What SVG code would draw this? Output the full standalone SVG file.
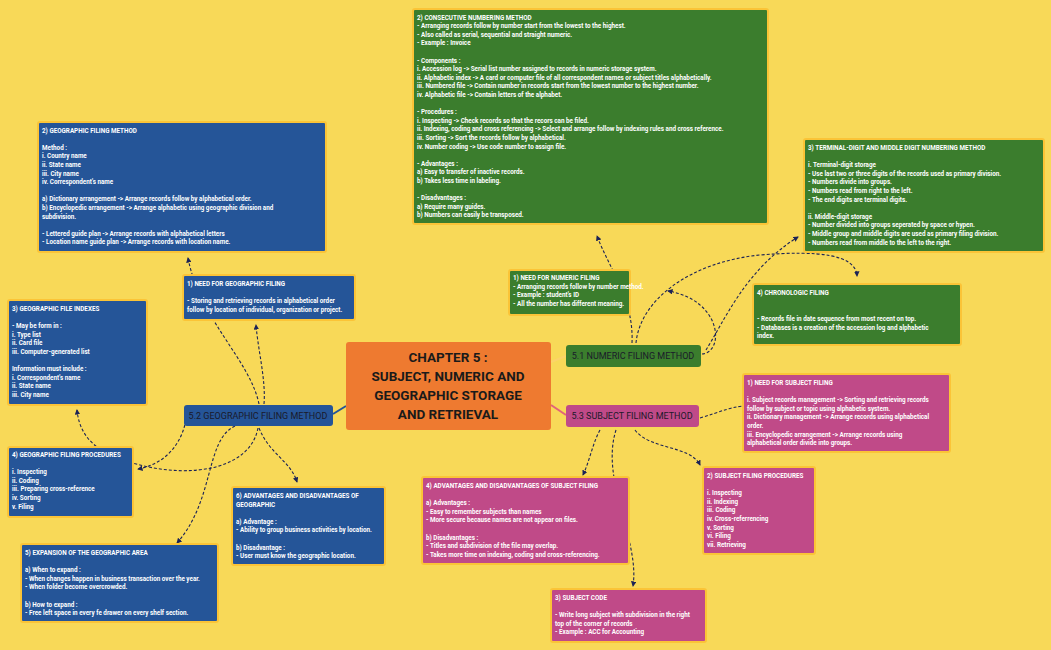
<svg xmlns="http://www.w3.org/2000/svg" width="1051" height="650" viewBox="0 0 1051 650">
<defs>
<marker id="ah" viewBox="0 0 6 6" refX="5" refY="3" markerWidth="5" markerHeight="5" orient="auto"><path d="M0,0 L6,3 L0,6 z" fill="#1c2356"/></marker>
<style>
.bx{stroke:#fbc437;stroke-width:2}
.g{fill:#3b7d2d}.b{fill:#255598}.p{fill:#c04a88}
.t{font-family:Roboto,"Liberation Sans",sans-serif;font-weight:bold;font-size:6.3px;fill:#fff}
.br{font-family:Roboto,"Liberation Sans",sans-serif;font-size:9px;fill:#1a1a2a}
.c{fill:none;stroke:#1c2356;stroke-width:1.1;stroke-dasharray:3,2;marker-end:url(#ah)}
</style>
</defs>
<rect width="1051" height="650" fill="#f8d958"/>
<g id="connectors">
<path d="M551,362 L566,356" stroke="#fcd36a" stroke-width="2" fill="none"/>
<path d="M551,405 L566,415" stroke="#e2637a" stroke-width="2" fill="none"/>
<path d="M333,414 L346,406" stroke="#255598" stroke-width="2" fill="none"/>
<path class="c" d="M632,343 C634,300 610,270 597,236"/>
<path class="c" d="M702,354 C725,352 722,300 668,291"/>
<path class="c" d="M706,350 C725,320 745,270 798,237"/>
<path class="c" d="M636,343 C640,300 690,262 760,255 C820,250 856,255 857,276"/>
<path class="c" d="M700,418 C720,412 735,405 749,406"/>
<path class="c" d="M600,430 C592,445 590,460 583,475"/>
<path class="c" d="M616,430 C600,480 640,540 633,586"/>
<path class="c" d="M635,430 C650,450 690,445 700,465"/>
<path class="c" d="M264,404 C266,380 258,350 256,325"/>
<path class="c" d="M259,404 C250,360 200,320 188,258"/>
<path class="c" d="M186,420 C180,450 160,465 138,469"/>
<path class="c" d="M258,428 C250,470 190,478 140,465 C100,455 80,440 77,410"/>
<path class="c" d="M235,426 C205,440 215,500 177,543"/>
<path class="c" d="M259,428 C270,455 290,460 297,482"/>
</g>
<g id="central"><rect x="346" y="342" width="205" height="88" rx="3" fill="#ee7a30"/>
<text font-family="Roboto,'Liberation Sans',sans-serif" font-weight="bold" font-size="13.5" fill="#1a1a1a" text-anchor="middle"><tspan x="448" y="362">CHAPTER 5 :</tspan><tspan x="448" y="381">SUBJECT, NUMERIC AND</tspan><tspan x="448" y="400">GEOGRAPHIC STORAGE</tspan><tspan x="448" y="419">AND RETRIEVAL</tspan></text></g>
<g id="b51"><rect x="566" y="345" width="135" height="22" rx="3" class="g"/><text class="br" x="633" y="359" text-anchor="middle">5.1 NUMERIC FILING METHOD</text></g>
<g id="b53"><rect x="566" y="405" width="133" height="22" rx="3" class="p"/><text class="br" x="632" y="419" text-anchor="middle">5.3 SUBJECT FILING METHOD</text></g>
<g id="b52"><rect x="184" y="405" width="149" height="21" rx="3" class="b"/><text class="br" x="258" y="418.5" text-anchor="middle">5.2 GEOGRAPHIC FILING METHOD</text></g>

<g id="consecutive"><rect x="413" y="9" width="355" height="215" rx="2" class="bx g"/>
<text class="t"><tspan x="417" y="19.5">2) CONSECUTIVE NUMBERING METHOD</tspan><tspan x="417" y="28.1">- Arranging records follow by number start from the lowest to the highest.</tspan><tspan x="417" y="36.7">- Also called as serial, sequential and straight numeric.</tspan><tspan x="417" y="45.3">- Example : Invoice</tspan><tspan x="417" y="62.5">- Components :</tspan><tspan x="417" y="71.1">i. Accession log -&gt; Serial list number assigned to records in numeric storage system.</tspan><tspan x="417" y="79.7">ii. Alphabetic index -&gt; A card or computer file of all correspondent names or subject titles alphabetically.</tspan><tspan x="417" y="88.3">iii. Numbered file -&gt; Contain number in records start from the lowest number to the highest number.</tspan><tspan x="417" y="96.9">iv. Alphabetic file -&gt; Contain letters of the alphabet.</tspan><tspan x="417" y="114.1">- Procedures :</tspan><tspan x="417" y="122.7">i. Inspecting -&gt; Check records so that the recors can be filed.</tspan><tspan x="417" y="131.3">ii. Indexing, coding and cross referencing -&gt; Select and arrange follow by indexing rules and cross reference.</tspan><tspan x="417" y="139.9">iii. Sorting -&gt; Sort the records follow by alphabetical.</tspan><tspan x="417" y="148.5">iv. Number coding -&gt; Use code number to assign file.</tspan><tspan x="417" y="165.7">- Advantages :</tspan><tspan x="417" y="174.3">a) Easy to transfer of inactive records.</tspan><tspan x="417" y="182.9">b) Takes less time in labeling.</tspan><tspan x="417" y="200.1">- Disadvantages :</tspan><tspan x="417" y="208.7">a) Require many guides.</tspan><tspan x="417" y="217.3">b) Numbers can easily be transposed.</tspan></text></g>

<g id="terminal"><rect x="804" y="139" width="240" height="113" rx="2" class="bx g"/>
<text class="t"><tspan x="808" y="150">3) TERMINAL-DIGIT AND MIDDLE DIGIT NUMBERING METHOD</tspan><tspan x="808" y="167.2">i. Terminal-digit storage</tspan><tspan x="808" y="175.8">- Use last two or three digits of the records used as primary division.</tspan><tspan x="808" y="184.4">- Numbers divide into groups.</tspan><tspan x="808" y="193">- Numbers read from right to the left.</tspan><tspan x="808" y="201.6">- The end digits are terminal digits.</tspan><tspan x="808" y="218.8">ii. Middle-digit storage</tspan><tspan x="808" y="227.4">- Number divided into groups seperated by space or hypen.</tspan><tspan x="808" y="236">- Middle group and middle digits are used as primary filing division.</tspan><tspan x="808" y="244.6">- Numbers read from middle to the left to the right.</tspan></text></g>

<g id="chronologic"><rect x="753" y="284" width="208" height="61" rx="2" class="bx g"/>
<text class="t"><tspan x="757" y="295">4) CHRONOLOGIC FILING</tspan><tspan x="757" y="321">- Records file in date sequence from most recent on top.</tspan><tspan x="757" y="329.6">- Databases is a creation of the accession log and alphabetic</tspan><tspan x="757" y="338.2">index.</tspan></text></g>

<g id="needNumeric"><rect x="509" y="270" width="121" height="45" rx="2" class="bx g"/>
<text class="t"><tspan x="513" y="280">1) NEED FOR NUMERIC FILING</tspan><tspan x="513" y="288.6">- Arranging records follow by number method.</tspan><tspan x="513" y="297.2">- Example : student's ID</tspan><tspan x="513" y="305.8">- All the number has different meaning.</tspan></text></g>

<g id="geoMethod"><rect x="38" y="122" width="288" height="130" rx="2" class="bx b"/>
<text class="t"><tspan x="42" y="132.5">2) GEOGRAPHIC FILING METHOD</tspan><tspan x="42" y="149.7">Method :</tspan><tspan x="42" y="158.3">i. Country name</tspan><tspan x="42" y="166.9">ii. State name</tspan><tspan x="42" y="175.5">iii. City name</tspan><tspan x="42" y="184.1">iv. Correspondent's name</tspan><tspan x="42" y="201.3">a) Dictionary arrangement -&gt; Arrange records follow by alphabetical order.</tspan><tspan x="42" y="209.9">b) Encyclopedic arrangement -&gt; Arrange alphabetic using geographic division and</tspan><tspan x="42" y="218.5">subdivision.</tspan><tspan x="42" y="235.7">- Lettered guide plan -&gt; Arrange records with alphabetical letters</tspan><tspan x="42" y="244.3">- Location name guide plan -&gt; Arrange records with location name.</tspan></text></g>

<g id="needGeo"><rect x="183" y="275" width="172" height="45" rx="2" class="bx b"/>
<text class="t"><tspan x="187" y="286">1) NEED FOR GEOGRAPHIC FILING</tspan><tspan x="187" y="303.2">- Storing and retrieving records in alphabetical order</tspan><tspan x="187" y="311.8">follow by location of individual, organization or project.</tspan></text></g>

<g id="geoIndexes"><rect x="8" y="300" width="139" height="105" rx="2" class="bx b"/>
<text class="t"><tspan x="12" y="311">3) GEOGRAPHIC FILE INDEXES</tspan><tspan x="12" y="328.2">- May be form in :</tspan><tspan x="12" y="336.8">i. Type list</tspan><tspan x="12" y="345.4">ii. Card file</tspan><tspan x="12" y="354">iii. Computer-generated list</tspan><tspan x="12" y="371.2">Information must include :</tspan><tspan x="12" y="379.8">i. Correspondent's name</tspan><tspan x="12" y="388.4">ii. State name</tspan><tspan x="12" y="397">iii. City name</tspan></text></g>

<g id="geoProc"><rect x="8" y="447" width="125" height="70" rx="2" class="bx b"/>
<text class="t"><tspan x="12" y="457">4) GEOGRAPHIC FILING PROCEDURES</tspan><tspan x="12" y="474.2">i. Inspecting</tspan><tspan x="12" y="482.8">ii. Coding</tspan><tspan x="12" y="491.4">iii. Preparing cross-reference</tspan><tspan x="12" y="500">iv. Sorting</tspan><tspan x="12" y="508.6">v. Filing</tspan></text></g>

<g id="geoExp"><rect x="21" y="544" width="197" height="78" rx="2" class="bx b"/>
<text class="t"><tspan x="25" y="555">5) EXPANSION OF THE GEOGRAPHIC AREA</tspan><tspan x="25" y="572.2">a) When to expand :</tspan><tspan x="25" y="580.8">- When changes happen in business transaction over the year.</tspan><tspan x="25" y="589.4">- When folder become overcrowded.</tspan><tspan x="25" y="606.6">b) How to expand :</tspan><tspan x="25" y="615.2">- Free left space in every fe drawer on every shelf section.</tspan></text></g>

<g id="geoAdv"><rect x="232" y="487" width="153" height="78" rx="2" class="bx b"/>
<text class="t"><tspan x="236" y="498">6) ADVANTAGES AND DISADVANTAGES OF</tspan><tspan x="236" y="506.6">GEOGRAPHIC</tspan><tspan x="236" y="523.8">a) Advantage :</tspan><tspan x="236" y="532.4">- Ability to group business activities by location.</tspan><tspan x="236" y="549.6">b) Disadvantage :</tspan><tspan x="236" y="558.2">- User must know the geographic location.</tspan></text></g>

<g id="needSubj"><rect x="743" y="374" width="207" height="78" rx="2" class="bx p"/>
<text class="t"><tspan x="747" y="385">1) NEED FOR SUBJECT FILING</tspan><tspan x="747" y="402.2">i. Subject records management -&gt; Sorting and retrieving records</tspan><tspan x="747" y="410.8">follow by subject or topic using alphabetic system.</tspan><tspan x="747" y="419.4">ii. Dictionary management -&gt; Arrange records using alphabetical</tspan><tspan x="747" y="428">order.</tspan><tspan x="747" y="436.6">iii. Encyclopedic arrangement -&gt; Arrange records using</tspan><tspan x="747" y="445.2">alphabetical order divide into groups.</tspan></text></g>

<g id="subjProc"><rect x="703" y="467" width="112" height="87" rx="2" class="bx p"/>
<text class="t"><tspan x="707" y="478">2) SUBJECT FILING PROCEDURES</tspan><tspan x="707" y="495.2">i. Inspecting</tspan><tspan x="707" y="503.8">ii. Indexing</tspan><tspan x="707" y="512.4">iii. Coding</tspan><tspan x="707" y="521">iv. Cross-referrencing</tspan><tspan x="707" y="529.6">v. Sorting</tspan><tspan x="707" y="538.2">vi. Filing</tspan><tspan x="707" y="546.8">vii. Retrieving</tspan></text></g>

<g id="subjAdv"><rect x="422" y="477" width="207" height="87" rx="2" class="bx p"/>
<text class="t"><tspan x="426" y="488">4) ADVANTAGES AND DISADVANTAGES OF SUBJECT FILING</tspan><tspan x="426" y="505.2">a) Advantages :</tspan><tspan x="426" y="513.8">- Easy to remember subjects than names</tspan><tspan x="426" y="522.4">- More secure because names are not appear on files.</tspan><tspan x="426" y="539.6">b) Disadvantages :</tspan><tspan x="426" y="548.2">- Titles and subdivision of the file may overlap.</tspan><tspan x="426" y="556.8">- Takes more time on indexing, coding and cross-referencing.</tspan></text></g>

<g id="subjCode"><rect x="551" y="589" width="155" height="53" rx="2" class="bx p"/>
<text class="t"><tspan x="555" y="600">3) SUBJECT CODE</tspan><tspan x="555" y="617.2">- Write long subject with subdivision in the right</tspan><tspan x="555" y="625.8">top of the corner of records</tspan><tspan x="555" y="634.4">- Example : ACC for Accounting</tspan></text></g>
</svg>
